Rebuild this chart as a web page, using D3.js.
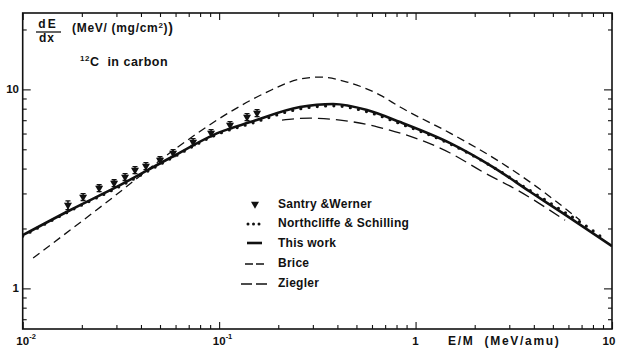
<!DOCTYPE html>
<html>
<head>
<meta charset="utf-8">
<script src="https://cdn.jsdelivr.net/npm/d3@7/dist/d3.min.js"></script>
<style>
  body { margin: 0; background: #fff; }
  text { font-family: "Liberation Sans", Arial, sans-serif; font-weight: bold; fill: #111; }
</style>
</head>
<body>
<svg id="chart" width="617" height="349"></svg>
<script>
// E/M in MeV/amu, dE/dx in MeV/(mg/cm2)
const workE = [0.01, 0.0174, 0.0313, 0.0562, 0.101, 0.144, 0.258, 0.38, 0.566, 0.834, 1.5, 2.48, 3.83, 5.64, 8.4, 10];
const workS = [1.85, 2.47, 3.30, 4.52, 6.10, 6.85, 8.15, 8.44, 7.87, 6.85, 5.37, 4.07, 3.06, 2.38, 1.83, 1.63];

const nsE = [0.01, 0.0174, 0.0313, 0.0562, 0.101, 0.144, 0.258, 0.38, 0.566, 0.834, 1.5, 2.48, 3.83, 5.64, 8.4, 9.3];
const nsS = [1.83, 2.45, 3.26, 4.47, 6.02, 6.72, 7.98, 8.27, 7.72, 6.73, 5.32, 4.07, 3.10, 2.44, 1.88, 1.74];

const briceE = [0.0113, 0.0278, 0.0562, 0.118, 0.175, 0.258, 0.326, 0.448, 0.66, 0.834, 1.5, 2.6, 3.83, 6.88];
const briceS = [1.42, 2.79, 4.80, 7.87, 9.69, 11.27, 11.53, 10.88, 9.36, 8.15, 6.03, 4.41, 3.42, 2.20];

const zieglerE = [0.209, 0.29, 0.413, 0.644, 1.5, 2.21, 3.29, 5.77];
const zieglerS = [7.01, 7.17, 7.01, 6.47, 4.79, 3.84, 3.12, 2.20];

const swE = [0.0170, 0.0203, 0.0245, 0.0292, 0.0332, 0.0373, 0.0424, 0.0500, 0.0583, 0.0737, 0.0910, 0.1136, 0.1387, 0.156];
const swS = [2.62, 2.88, 3.19, 3.38, 3.63, 3.93, 4.12, 4.41, 4.79, 5.44, 6.03, 6.62, 7.26, 7.60];
const swErr = [0.05, 0.04, 0.04, 0.04, 0.04, 0.04, 0.04, 0.04, 0.04, 0.04, 0.04, 0.04, 0.04, 0.04];

const xMajor = [0.01, 0.1, 1, 10];
const xLabels = [["10", "-2"], ["10", "-1"], ["1", ""], ["10", ""]];
const yMajor = [1, 10];
const yLabels = ["1", "10"];

const legendNames = ["Santry &Werner", "Northcliffe & Schilling", "This work", "Brice", "Ziegler"];

const svg = d3.select("#chart");
const plotL = 22.7, plotR = 612, plotT = 13, plotB = 329;

const x = d3.scaleLog().domain([0.01, 10]).range([plotL, plotR]);
const y = d3.scaleLog().domain([0.625, 24.2]).range([plotB, plotT]);

const zip = (a, b) => a.map((v, i) => [v, b[i]]);
const line = d3.line()
  .x(d => x(d[0]))
  .y(d => y(d[1]))
  .curve(d3.curveMonotoneX);

svg.append("clipPath").attr("id", "clip")
  .append("rect").attr("x", plotL).attr("y", plotT)
  .attr("width", plotR - plotL).attr("height", plotB - plotT);

const plot = svg.append("g").attr("clip-path", "url(#clip)");

// ticks (inward, all four sides)
const isMajor = v => Math.abs(Math.log10(v) - Math.round(Math.log10(v))) < 1e-9;
const xMinor = x.ticks().filter(v => !isMajor(v));
const yMinor = y.ticks().filter(v => !isMajor(v));

function tickAxis(axis, values, size, transform) {
  svg.append("g")
    .attr("transform", transform)
    .call(axis.tickValues(values).tickSize(-size).tickFormat(""))
    .call(g => g.select(".domain").remove())
    .call(g => g.selectAll("line").attr("stroke", "#111").attr("stroke-width", 1.1));
}
tickAxis(d3.axisBottom(x), xMinor, 4, `translate(0,${plotB})`);
tickAxis(d3.axisBottom(x), xMajor, 7, `translate(0,${plotB})`);
tickAxis(d3.axisTop(x), xMinor, 4, `translate(0,${plotT})`);
tickAxis(d3.axisTop(x), xMajor, 7, `translate(0,${plotT})`);
tickAxis(d3.axisLeft(y), yMinor, 4, `translate(${plotL},0)`);
tickAxis(d3.axisLeft(y), yMajor, 8, `translate(${plotL},0)`);
tickAxis(d3.axisRight(y), yMinor, 4, `translate(${plotR},0)`);
tickAxis(d3.axisRight(y), yMajor, 8, `translate(${plotR},0)`);

svg.append("rect")
  .attr("x", plotL).attr("y", plotT)
  .attr("width", plotR - plotL).attr("height", plotB - plotT)
  .attr("fill", "none").attr("stroke", "#111").attr("stroke-width", 1.6);

// tick labels
xMajor.forEach((v, i) => {
  const cx = i === xMajor.length - 1 ? x(v) - 3 : x(v);
  svg.append("text").attr("x", cx).attr("y", 345)
    .attr("text-anchor", "middle").attr("font-size", 11.5).text(xLabels[i][0]);
  if (xLabels[i][1]) {
    svg.append("text").attr("x", cx + 6.5).attr("y", 339)
      .attr("font-size", 7.5).text(xLabels[i][1]);
  }
});
yMajor.forEach((v, i) => {
  svg.append("text").attr("x", 19).attr("y", y(v) + 4)
    .attr("text-anchor", "end").attr("font-size", 11.5).text(yLabels[i]);
});

svg.append("text").attr("x", 448).attr("y", 345)
  .attr("font-size", 12).attr("letter-spacing", 1.7)
  .attr("xml:space", "preserve").text("E/M  (MeV/amu)");

// y title
svg.append("text").attr("x", 48).attr("y", 28).attr("text-anchor", "middle")
  .attr("font-size", 12).attr("letter-spacing", 2).text("dE");
svg.append("line").attr("x1", 36).attr("x2", 61).attr("y1", 32).attr("y2", 32)
  .attr("stroke", "#111").attr("stroke-width", 1.3);
svg.append("text").attr("x", 47).attr("y", 42).attr("text-anchor", "middle")
  .attr("font-size", 12).attr("letter-spacing", 1).text("dx");
const unit = svg.append("text").attr("x", 72).attr("y", 32)
  .attr("font-size", 12).attr("letter-spacing", 0.7);
unit.append("tspan").text("(MeV/ (mg/cm");
unit.append("tspan").attr("font-size", 8).attr("dy", -4).text("2");
unit.append("tspan").attr("dy", 4).text(")");
unit.append("tspan").attr("font-size", 14).attr("dy", 1).text(")");

const ion = svg.append("text").attr("x", 80).attr("y", 66).attr("font-size", 12.5)
  .attr("letter-spacing", 0.5).attr("xml:space", "preserve");
ion.append("tspan").attr("font-size", 8).attr("dy", -5).text("12");
ion.append("tspan").attr("dy", 5).text("C  in carbon");

// curves
plot.append("path").datum(zip(briceE, briceS)).attr("d", line)
  .attr("fill", "none").attr("stroke", "#111").attr("stroke-width", 1.3)
  .attr("stroke-dasharray", "8,5");
plot.append("path").datum(zip(zieglerE, zieglerS)).attr("d", line)
  .attr("fill", "none").attr("stroke", "#111").attr("stroke-width", 1.3)
  .attr("stroke-dasharray", "12,6");
plot.append("path").datum(zip(workE, workS)).attr("d", line)
  .attr("fill", "none").attr("stroke", "#111").attr("stroke-width", 2.6);
plot.append("path").datum(zip(nsE, nsS)).attr("d", line)
  .attr("fill", "none").attr("stroke", "#111").attr("stroke-width", 3.2)
  .attr("stroke-linecap", "round").attr("stroke-dasharray", "0,8.3");

// Santry & Werner points
const tri = d3.symbol().type(d3.symbolTriangle).size(28);
const sw = plot.selectAll(".sw").data(zip(swE, swS).map((d, i) => [d[0], d[1], swErr[i]]))
  .enter().append("g").attr("class", "sw")
  .attr("transform", d => `translate(${x(d[0])},${y(d[1])})`);
sw.append("line")
  .attr("y1", d => y(d[1] * (1 + d[2])) - y(d[1]))
  .attr("y2", d => y(d[1] * (1 - d[2])) - y(d[1]))
  .attr("stroke", "#111").attr("stroke-width", 1.5);
sw.append("line").attr("x1", -2.5).attr("x2", 2.5)
  .attr("y1", d => y(d[1] * (1 + d[2])) - y(d[1]))
  .attr("y2", d => y(d[1] * (1 + d[2])) - y(d[1]))
  .attr("stroke", "#111").attr("stroke-width", 1.3);
sw.append("line").attr("x1", -2.5).attr("x2", 2.5)
  .attr("y1", d => y(d[1] * (1 - d[2])) - y(d[1]))
  .attr("y2", d => y(d[1] * (1 - d[2])) - y(d[1]))
  .attr("stroke", "#111").attr("stroke-width", 1.3);
sw.append("path").attr("d", tri).attr("transform", "rotate(180)").attr("fill", "#111");

// legend
const legY = [204, 223, 243, 263, 283];
const leg = svg.append("g");
leg.append("path").attr("d", tri).attr("transform", `translate(255,${legY[0]}) rotate(180)`).attr("fill", "#111");
leg.append("line").attr("x1", 248).attr("x2", 262).attr("y1", legY[1] + 1).attr("y2", legY[1] + 1)
  .attr("stroke", "#111").attr("stroke-width", 3).attr("stroke-linecap", "round").attr("stroke-dasharray", "0,5.5");
leg.append("line").attr("x1", 247).attr("x2", 262).attr("y1", legY[2]).attr("y2", legY[2])
  .attr("stroke", "#111").attr("stroke-width", 2.6);
leg.append("line").attr("x1", 245).attr("x2", 264).attr("y1", legY[3] + 1).attr("y2", legY[3] + 1)
  .attr("stroke", "#111").attr("stroke-width", 1.3).attr("stroke-dasharray", "8,3");
leg.append("line").attr("x1", 241).attr("x2", 267).attr("y1", legY[4] + 1).attr("y2", legY[4] + 1)
  .attr("stroke", "#111").attr("stroke-width", 1.3).attr("stroke-dasharray", "11,4");
leg.selectAll(".lt").data(legendNames).enter().append("text")
  .attr("x", 278).attr("y", (d, i) => legY[i] + 4)
  .attr("font-size", 12).attr("letter-spacing", 0.25).text(d => d);
</script>
</body>
</html>
